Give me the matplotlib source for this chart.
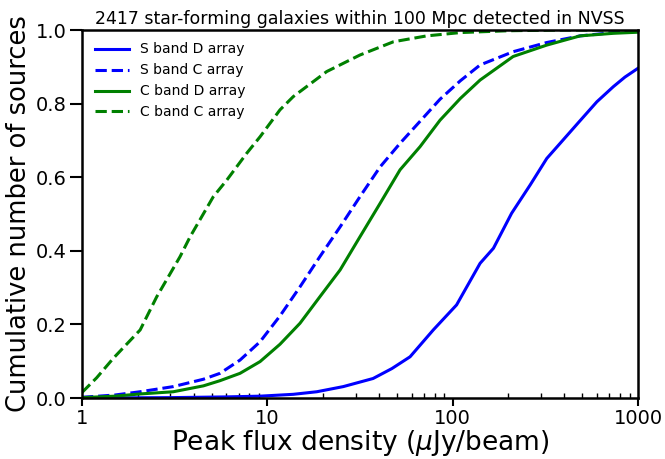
import matplotlib
matplotlib.use("Agg")
import matplotlib.pyplot as plt
import numpy as np

# S band D array (blue solid)
sD_x = [1, 3, 6, 9.14, 13.8, 18.5, 25.7, 37.2, 47, 58.9, 78.6, 105, 140.6, 166, 208, 262, 322, 380, 480, 600, 736, 850, 1000]
sD_y = [0.0, 0.001, 0.003, 0.005, 0.010, 0.017, 0.031, 0.053, 0.08, 0.112, 0.185, 0.253, 0.366, 0.407, 0.502, 0.579, 0.651, 0.692, 0.75, 0.805, 0.846, 0.872, 0.896]

# S band C array (blue dashed)
sC_x = [1, 1.5, 2.06, 3.11, 4.52, 5.55, 7.12, 9.14, 11.7, 15.0, 19.2, 24.7, 31.6, 40.6, 52.0, 66.7, 85.5, 110, 140.6, 212, 322, 487, 736, 1000]
sC_y = [0.002, 0.008, 0.017, 0.031, 0.051, 0.067, 0.103, 0.153, 0.223, 0.302, 0.384, 0.465, 0.547, 0.628, 0.692, 0.752, 0.812, 0.862, 0.905, 0.941, 0.966, 0.984, 0.993, 0.996]

# C band D array (green solid)
cD_x = [1, 1.5, 2.06, 3.11, 4.52, 5.55, 7.12, 9.14, 11.7, 15.0, 19.2, 24.7, 31.6, 40.6, 52.0, 66.7, 85.5, 110, 140.6, 212, 322, 487, 736, 1000]
cD_y = [0.001, 0.005, 0.011, 0.017, 0.033, 0.047, 0.067, 0.099, 0.146, 0.203, 0.275, 0.348, 0.438, 0.529, 0.620, 0.683, 0.755, 0.814, 0.864, 0.928, 0.959, 0.984, 0.991, 0.994]

# C band C array (green dashed)
cC_x = [1, 1.2, 1.476, 2.06, 2.53, 3.38, 3.83, 5.11, 6.04, 7.74, 9.14, 11.7, 13.8, 20.9, 31.6, 47.9, 72.4, 110, 200, 400, 1000]
cC_y = [0.015, 0.055, 0.108, 0.185, 0.275, 0.384, 0.438, 0.547, 0.592, 0.665, 0.71, 0.783, 0.819, 0.887, 0.932, 0.968, 0.984, 0.993, 0.998, 1.0, 1.0]

labels = ["S band D array", "S band C array", "C band D array", "C band C array"]
title = "2417 star-forming galaxies within 100 Mpc detected in NVSS"

fig = plt.figure(figsize=(6.65, 4.59), dpi=100)
ax = fig.add_axes([82/665, 1-398/459, (638-82)/665, 368/459])

ax.plot(sD_x, sD_y, color="b", ls="-", lw=2.2, label=labels[0])
ax.plot(sC_x, sC_y, color="b", ls="--", lw=2.2, label=labels[1])
ax.plot(cD_x, cD_y, color="g", ls="-", lw=2.2, label=labels[2])
ax.plot(cC_x, cC_y, color="g", ls="--", lw=2.2, label=labels[3])

ax.set_xscale("log")
ax.set_xlim(1, 1000)
ax.set_ylim(0, 1.0)
ax.set_xticks([1, 10, 100, 1000])
ax.set_xticklabels(["1", "10", "100", "1000"])
ax.set_yticks([0.0, 0.2, 0.4, 0.6, 0.8, 1.0])
ax.set_yticklabels(["0.0", "0.2", "0.4", "0.6", "0.8", "1.0"])
ax.tick_params(axis="y", which="major", direction="out", length=9, width=1.5, labelsize=14, pad=2)
ax.tick_params(axis="x", which="major", direction="out", length=6, width=1.5, labelsize=14, pad=2)
ax.tick_params(axis="both", which="minor", direction="in", length=3.5, width=1)
for s in ax.spines.values():
    s.set_linewidth(1.8)

ax.set_xlabel(r"Peak flux density ($\mu$Jy/beam)", fontsize=19, labelpad=0)
ax.set_ylabel("Cumulative number of sources", fontsize=18.5, labelpad=3)
ax.set_title(title, fontsize=12.5, pad=4)
ax.legend(loc="upper left", frameon=False, fontsize=10, handlelength=2.5)

fig.savefig("out.png", dpi=100)
